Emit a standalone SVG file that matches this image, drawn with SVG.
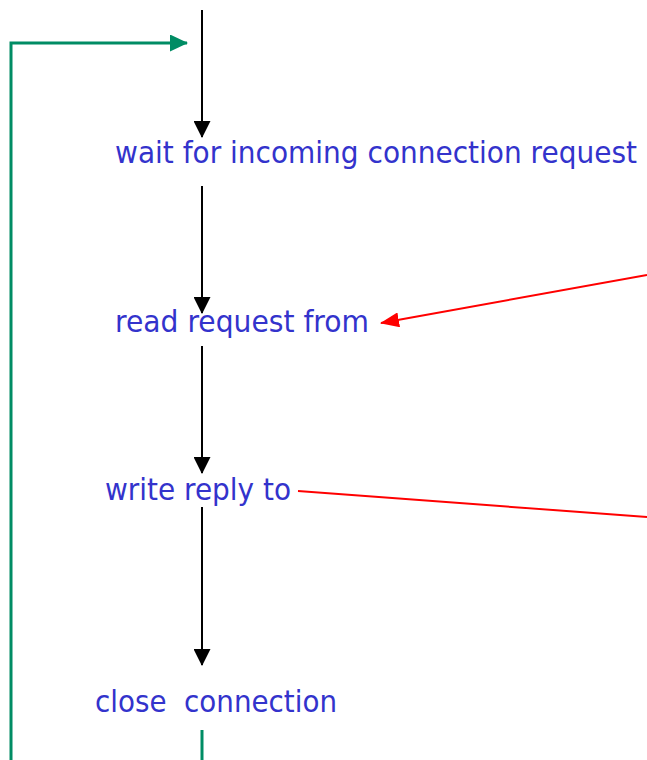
<svg xmlns="http://www.w3.org/2000/svg" width="647" height="760" viewBox="0 0 647 760">
  <style>
    .lbl { font-family: "DejaVu Sans", Tahoma, sans-serif; font-size: 30px; fill: #3333cc; white-space: pre; }
    .flow { stroke: #000; stroke-width: 2; fill: none; }
    .loop { stroke: #008c64; stroke-width: 3; fill: none; }
    .sock { stroke: #ff0000; stroke-width: 2; fill: none; }
  </style>
  <defs>
    <!-- arrowheads sized in user units -->
    <marker id="blackHead" viewBox="0 0 17 17" refX="16" refY="8.5" markerWidth="17" markerHeight="17" markerUnits="userSpaceOnUse" orient="auto">
      <path d="M0,0 L17,8.5 L0,17 Z" fill="#000"/>
    </marker>
    <marker id="greenHead" viewBox="0 0 18 17" refX="17" refY="8.5" markerWidth="18" markerHeight="17" markerUnits="userSpaceOnUse" orient="auto">
      <path d="M0,0 L18,8.5 L0,17 Z" fill="#008c64"/>
    </marker>
    <marker id="redHead" viewBox="0 0 19 15" refX="18" refY="7.5" markerWidth="19" markerHeight="15" markerUnits="userSpaceOnUse" orient="auto">
      <path d="M0,0 L19,7.5 L0,15 Z" fill="#ff0000"/>
    </marker>
  </defs>

  <!-- connectors -->
  <g id="connectors">
    <line class="flow" x1="202" y1="10" x2="202" y2="137" marker-end="url(#blackHead)"/>
    <line class="flow" x1="202" y1="186" x2="202" y2="313" marker-end="url(#blackHead)"/>
    <line class="flow" x1="202" y1="346" x2="202" y2="473" marker-end="url(#blackHead)"/>
    <line class="flow" x1="202" y1="507" x2="202" y2="665" marker-end="url(#blackHead)"/>
    <line class="loop" x1="202" y1="730" x2="202" y2="760"/>
    <polyline class="loop" points="11,760 11,43 187,43" marker-end="url(#greenHead)"/>
    <line class="sock" x1="647" y1="275" x2="381" y2="323" marker-end="url(#redHead)"/>
    <line class="sock" x1="298" y1="491" x2="647" y2="517"/>
  </g>

  <!-- steps -->
  <g id="wait">
    <text class="lbl" x="115" y="163" textLength="522" lengthAdjust="spacingAndGlyphs">wait for incoming connection request</text>
  </g>
  <g id="read">
    <text class="lbl" x="115" y="332" textLength="254" lengthAdjust="spacingAndGlyphs">read request from</text>
  </g>
  <g id="write">
    <text class="lbl" x="105" y="500" textLength="186" lengthAdjust="spacingAndGlyphs">write reply to</text>
  </g>
  <g id="close">
    <text class="lbl" x="95" y="712" textLength="242" lengthAdjust="spacingAndGlyphs">close  connection</text>
  </g>
</svg>
